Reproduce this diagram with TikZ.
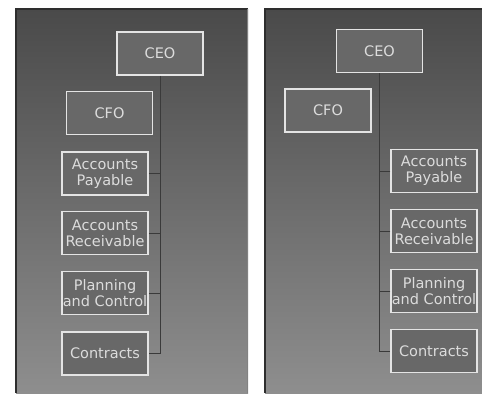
\documentclass[tikz,border=0pt]{standalone}
\usepackage{fontspec}
\setmainfont{DejaVu Sans}
\definecolor{bgtop}{HTML}{4A4A4A}
\definecolor{bgbot}{HTML}{8E8E8E}
\definecolor{boxfill}{HTML}{686868}
\definecolor{boxline}{HTML}{E4E4E4}
\definecolor{txt}{HTML}{DCDCDC}
\definecolor{conn}{HTML}{3A3A3A}
\definecolor{edge}{HTML}{2E2E2E}
\tikzset{
  orgbox/.style={draw=boxline, line width=1.5bp, fill=boxfill, text=txt,
    minimum width=86bp, minimum height=43bp, inner sep=0pt, align=center,
    font=\fontsize{14.5bp}{16bp}\selectfont},
  link/.style={draw=conn, line width=1bp},
  panel/.style={top color=bgtop, bottom color=bgbot}
}
\begin{document}
\begin{tikzpicture}[x=1bp,y=-1bp]
\useasboundingbox (0,0) rectangle (482,393);
\fill[white] (0,0) rectangle (482,393);
% panels
\shade[panel] (16,9) rectangle (248,393);
\shade[panel] (265,9) rectangle (482,393);
\draw[edge, line width=1.2bp] (16,393) -- (16,9) -- (248,9);
\draw[edge, line width=1.2bp] (265,393) -- (265,9) -- (482,9);
\draw[edge!60, line width=0.8bp] (247.6,9) -- (247.6,393);
% left chart
\node[orgbox] (lceo) at (160,53.5) {CEO};
\node[orgbox] (lcfo) at (109.5,113) {CFO};
\node[orgbox] (lap) at (105,173.5) {Accounts\\Payable};
\node[orgbox] (lar) at (105,233) {Accounts\\Receivable};
\node[orgbox] (lpc) at (105,293) {Planning\\and Control};
\node[orgbox] (lcon) at (105,353.5) {Contracts};
\draw[link] (lceo.south) -- (lceo.south |- lcon.east) -- (lcon.east);
\draw[link] (lap.east) -- (lap.east -| lceo.south);
\draw[link] (lar.east) -- (lar.east -| lceo.south);
\draw[link] (lpc.east) -- (lpc.east -| lceo.south);
% right chart
\node[orgbox] (rceo) at (379.5,51) {CEO};
\node[orgbox] (rcfo) at (328,110.5) {CFO};
\node[orgbox] (rap) at (434,171) {Accounts\\Payable};
\node[orgbox] (rar) at (434,231) {Accounts\\Receivable};
\node[orgbox] (rpc) at (434,291) {Planning\\and Control};
\node[orgbox] (rcon) at (434,351) {Contracts};
\draw[link] (rceo.south) -- (rceo.south |- rcon.west) -- (rcon.west);
\draw[link] (rap.west) -- (rap.west -| rceo.south);
\draw[link] (rar.west) -- (rar.west -| rceo.south);
\draw[link] (rpc.west) -- (rpc.west -| rceo.south);
\end{tikzpicture}
\end{document}
